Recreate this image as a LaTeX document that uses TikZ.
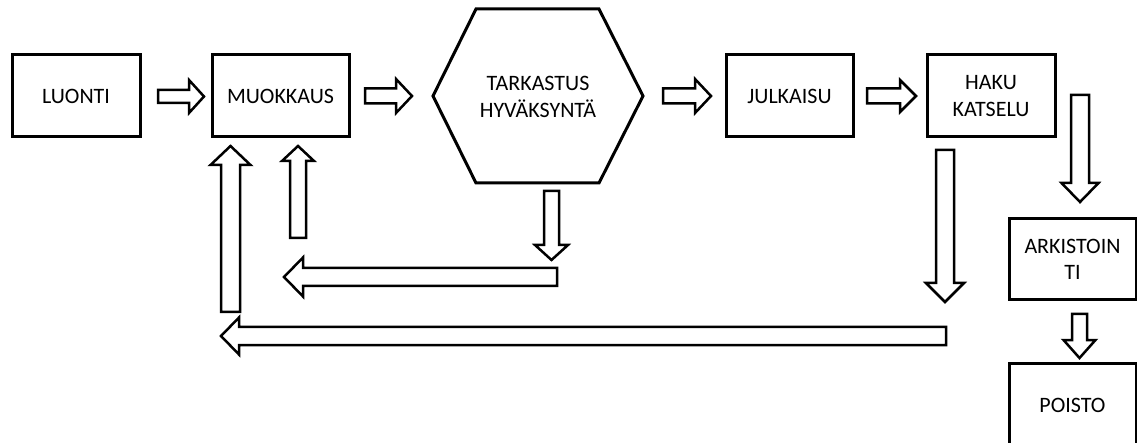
\documentclass[tikz,border=0pt]{standalone}
\usepackage{fontspec}
\setmainfont{Carlito}
\usetikzlibrary{calc}

\newcommand{\labelfont}{\fontsize{22}{26.5}\selectfont}

% Hollow block arrow from tail #1 to tip #2;
% #3 shaft half width, #4 head half width, #5 head length.
\newcommand{\blockarrow}[5]{%
  \draw[flow] let \p1=(#1), \p2=(#2),
      \n1={atan2(\y2-\y1,\x2-\x1)},
      \n2={veclen(\x2-\x1,\y2-\y1)} in
    [shift={(\p1)}, rotate=\n1]
    (0pt,-#3) -- ({\n2-#5},-#3) -- ({\n2-#5},-#4) -- ({\n2},0pt)
    -- ({\n2-#5},#4) -- ({\n2-#5},#3) -- (0pt,#3) -- cycle;
}

\begin{document}
\begin{tikzpicture}[x=1pt, y=-1pt,
  box/.style={draw, line width=3pt, align=center, font=\labelfont,
    inner sep=0pt, minimum height=82pt},
  flow/.style={draw, line width=2.5pt, fill=white, line join=miter},
  hexline/.style={draw, line width=3pt, line join=miter}]

\clip (0,0) rectangle (1137,443);
\fill[white] (0,0) rectangle (1137,443);

% process steps
\node[box, minimum width=128pt] (luonti)   at (76,96)     {LUONTI};
\node[box, minimum width=137pt] (muokkaus) at (280.5,96)  {MUOKKAUS};
\node[align=center, font=\labelfont, inner sep=0pt] (tark) at (538,97)
  {TARKASTUS\\HYVÄKSYNTÄ};
\node[box, minimum width=127pt] (julkaisu) at (789.5,96)  {JULKAISU};
\node[box, minimum width=128pt] (haku)     at (991,96)    {HAKU\\KATSELU};
\node[box, minimum width=127pt, minimum height=81pt] (arkisto) at (1072.5,259.5)
  {ARKISTOIN\\TI};
\node[box, minimum width=127pt, minimum height=84pt] (poisto) at (1072.5,405)
  {POISTO};

% review hexagon around its label
\draw[hexline] ($(tark)+(-105,-1)$) -- ($(tark)+(-62,-88)$) -- ($(tark)+(61,-88)$)
  -- ($(tark)+(105,-1)$) -- ($(tark)+(61,86)$) -- ($(tark)+(-62,86)$) -- cycle;

% arrow end points
\coordinate (a1s) at (158,96.5);   \coordinate (a1e) at (204,96.5);
\coordinate (a2s) at (365,96);     \coordinate (a2e) at (412,96);
\coordinate (a3s) at (663,96);     \coordinate (a3e) at (711,96);
\coordinate (a4s) at (867,96);     \coordinate (a4e) at (916,96);
\coordinate (a5s) at (1080,95);    \coordinate (a5e) at (1080,202);
\coordinate (a6s) at (945,150);    \coordinate (a6e) at (945,302);
\coordinate (a7s) at (1079.5,314); \coordinate (a7e) at (1079.5,358);
\coordinate (a8s) at (551.5,191);  \coordinate (a8e) at (551.5,260);
\coordinate (a9s) at (557,277);    \coordinate (a9e) at (284,277);
\coordinate (a10s) at (946,336);   \coordinate (a10e) at (221,336);
\coordinate (a11s) at (230.5,312); \coordinate (a11e) at (230.5,146);
\coordinate (a12s) at (298,238);   \coordinate (a12e) at (298,146);

% main flow
\blockarrow{a1s}{a1e}{6.5pt}{16.5pt}{15pt}
\blockarrow{a2s}{a2e}{7.5pt}{17pt}{16pt}
\blockarrow{a3s}{a3e}{7.5pt}{17pt}{16pt}
\blockarrow{a4s}{a4e}{7.5pt}{16pt}{16pt}
\blockarrow{a5s}{a5e}{9pt}{18.5pt}{19pt}
\blockarrow{a7s}{a7e}{7.5pt}{16pt}{18pt}

% return paths
\blockarrow{a8s}{a8e}{7.5pt}{16.5pt}{15pt}
\blockarrow{a9s}{a9e}{9pt}{19.5pt}{19pt}
\blockarrow{a12s}{a12e}{8pt}{16pt}{15pt}
\blockarrow{a6s}{a6e}{9pt}{19pt}{19pt}
\blockarrow{a10s}{a10e}{9pt}{18.5pt}{18pt}
\blockarrow{a11s}{a11e}{9.5pt}{20pt}{19pt}

\end{tikzpicture}
\end{document}
